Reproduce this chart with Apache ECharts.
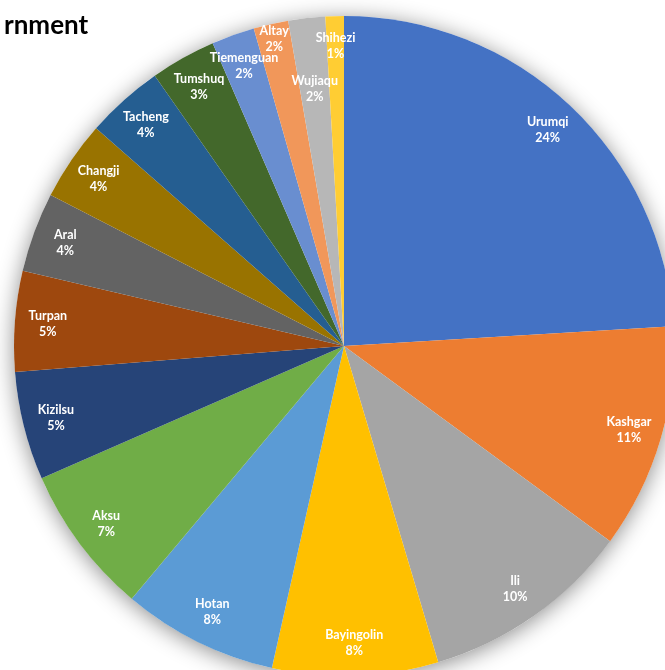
<!DOCTYPE html>
<html>
<head>
<meta charset="utf-8">
<script src="https://cdn.jsdelivr.net/npm/echarts@6/dist/echarts.min.js"></script>
<style>
  html, body { margin: 0; padding: 0; background: #ffffff; }
  #chart { width: 665px; height: 670px; }
</style>
</head>
<body>
<div id="chart"></div>
<script>
// Prefectures, clockwise from 12 o'clock
const regions = [
  'Urumqi', 'Kashgar', 'Ili', 'Bayingolin', 'Hotan', 'Aksu', 'Kizilsu', 'Turpan',
  'Aral', 'Changji', 'Tacheng', 'Tumshuq', 'Tiemenguan', 'Altay', 'Wujiaqu', 'Shihezi'
];
// Share of the total, in percent
const shares = [
  24.0, 11.0, 10.3, 8.1, 7.6, 7.3, 5.3, 4.9,
  3.9, 3.9, 3.8, 3.2, 2.1, 1.7, 1.8, 0.9
];
const sliceColors = [
  '#4472C4', '#ED7D31', '#A5A5A5', '#FFC000', '#5B9BD5', '#70AD47', '#264478', '#9E480E',
  '#636363', '#997300', '#255E91', '#43682B', '#698ED0', '#F1975A', '#B7B7B7', '#FFCD33'
];

const CX = 344, CY = 346, R = 330;
// Labels sit near the outer rim; a few thin slices are nudged to stay readable
const labelRimFraction = 0.9;
const labelRimOverride = { Altay: 0.955, Wujiaqu: 0.785, Shihezi: 0.91 };

const total = shares.reduce((a, b) => a + b, 0);
const midAngles = [];
let acc = 0;
shares.forEach(v => {
  midAngles.push((acc + v / 2) / total * Math.PI * 2);
  acc += v;
});

const chart = echarts.init(document.getElementById('chart'), null, { renderer: 'canvas' });
chart.setOption({
  animation: false,
  backgroundColor: '#ffffff',
  title: {
    text: 'rnment',
    left: -1,
    top: 8,
    textStyle: { fontFamily: 'Lato', fontWeight: 'bold', fontSize: 26, color: '#000000' }
  },
  graphic: [{
    type: 'circle',
    z: 0,
    silent: true,
    shape: { cx: CX, cy: CY, r: R },
    style: {
      fill: '#ffffff',
      shadowBlur: 22,
      shadowOffsetY: 3,
      shadowColor: 'rgba(0,0,0,0.45)'
    }
  }],
  series: [{
    type: 'pie',
    z: 2,
    center: [CX, CY],
    radius: [0, R],
    startAngle: 90,
    clockwise: true,
    avoidLabelOverlap: false,
    itemStyle: { borderWidth: 0 },
    emphasis: { disabled: true },
    label: {
      show: true,
      position: 'inside',
      color: '#ffffff',
      fontFamily: 'Lato',
      fontWeight: 'bold',
      fontSize: 12.5,
      lineHeight: 16,
      align: 'center',
      formatter: p => p.name + '\n' + Math.round(p.value / total * 100) + '%'
    },
    labelLine: { show: false },
    labelLayout: params => {
      const i = params.dataIndex;
      const f = labelRimOverride[regions[i]] || labelRimFraction;
      const a = midAngles[i];
      return {
        x: CX + R * f * Math.sin(a),
        y: CY - R * f * Math.cos(a),
        align: 'center',
        verticalAlign: 'middle'
      };
    },
    data: regions.map((name, i) => ({
      name: name,
      value: shares[i],
      itemStyle: { color: sliceColors[i] }
    }))
  }]
});
</script>
</body>
</html>
